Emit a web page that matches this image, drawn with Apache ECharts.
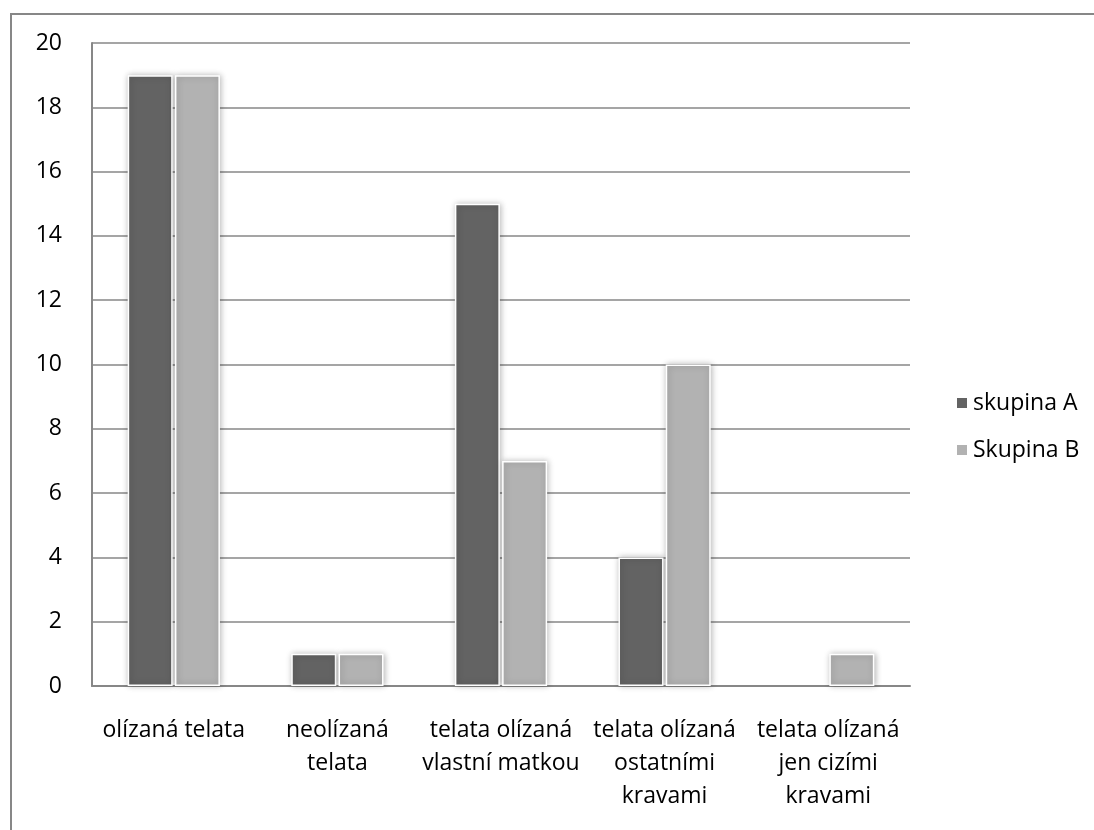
<!DOCTYPE html>
<html>
<head>
<meta charset="utf-8">
<script src="https://cdn.jsdelivr.net/npm/echarts@6/dist/echarts.min.js"></script>
<style>
  html, body { margin: 0; padding: 0; background: #fff; }
  #chart { width: 1094px; height: 830px; }
</style>
</head>
<body>
<div id="chart"></div>
<script>
// Categories (line breaks as shown under the axis)
const categories = [
  'olízaná telata',
  'neolízaná\ntelata',
  'telata olízaná\nvlastní matkou',
  'telata olízaná\nostatními\nkravami',
  'telata olízaná\njen cizími\nkravami'
];
const seriesNames = ['skupina A', 'Skupina B'];
const groupA = [19, 1, 15, 4, 0];
const groupB = [19, 1, 7, 10, 1];
const yTicks = { min: 0, max: 20, interval: 2 };

const FONT = '"Open Sans", "Noto Sans", sans-serif';
const FONT_SIZE = 23;
const GRID_COLOR = '#878787';

const barStyle = (color) => ({
  color: color,
  borderColor: '#ffffff',
  borderWidth: 1.5,
  shadowBlur: 6,
  shadowColor: 'rgba(0,0,0,0.28)',
  shadowOffsetX: 1,
  shadowOffsetY: 0
});

// zero-height bars get no outline or shadow
const toBarData = (values) => values.map(v => v === 0
  ? { value: v, itemStyle: { borderWidth: 0, shadowBlur: 0, shadowColor: 'transparent' } }
  : v);

const chart = echarts.init(document.getElementById('chart'));
chart.setOption({
  animation: false,
  backgroundColor: '#ffffff',
  textStyle: { fontFamily: FONT },
  graphic: [{
    type: 'rect',
    shape: { x: 11, y: 14, width: 1100, height: 830 },
    style: { fill: 'none', stroke: GRID_COLOR, lineWidth: 2 },
    silent: true
  }],
  grid: { left: 92, right: 184, top: 43, bottom: 144, containLabel: false },
  legend: {
    orient: 'vertical',
    left: 955,
    top: 391,
    padding: 0,
    itemWidth: 12,
    itemHeight: 12,
    itemGap: 23,
    icon: 'rect',
    data: seriesNames,
    textStyle: { fontFamily: FONT, fontSize: FONT_SIZE, color: '#000', lineHeight: 24 }
  },
  xAxis: {
    type: 'category',
    data: categories,
    axisLine: { show: true, lineStyle: { color: GRID_COLOR, width: 2 } },
    axisTick: { show: false },
    axisLabel: {
      interval: 0,
      margin: 28,
      fontFamily: FONT,
      fontSize: FONT_SIZE,
      lineHeight: 33,
      color: '#000'
    }
  },
  yAxis: {
    type: 'value',
    min: yTicks.min,
    max: yTicks.max,
    interval: yTicks.interval,
    axisLine: { show: true, lineStyle: { color: GRID_COLOR, width: 2 } },
    axisTick: { show: false },
    splitLine: { show: true, lineStyle: { color: GRID_COLOR, width: 1.5 } },
    axisLabel: { margin: 30, fontFamily: FONT, fontSize: FONT_SIZE, color: '#000' }
  },
  series: [
    {
      name: seriesNames[0],
      type: 'bar',
      data: toBarData(groupA),
      barWidth: 45,
      barGap: '5%',
      itemStyle: barStyle('#636363')
    },
    {
      name: seriesNames[1],
      type: 'bar',
      data: toBarData(groupB),
      barWidth: 45,
      itemStyle: barStyle('#b2b2b2')
    }
  ]
});
</script>
</body>
</html>
